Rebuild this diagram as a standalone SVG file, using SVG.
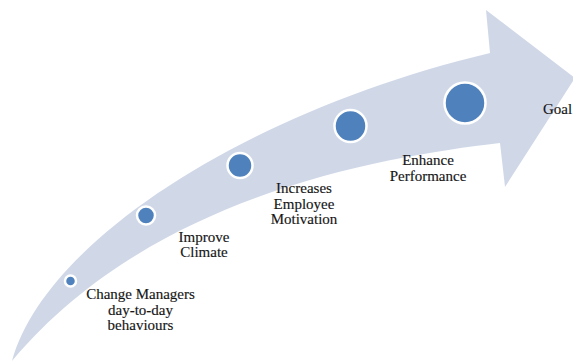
<svg xmlns="http://www.w3.org/2000/svg" width="573" height="362" viewBox="0 0 573 362">
  <style>
    .arrow { fill: #D0D8E8; }
    .dot { fill: #4F81BD; stroke: #FFFFFF; stroke-width: 2.5; }
    .lbl { font-family: "Liberation Serif", "Times New Roman", serif; font-size: 15px; fill: #161616; stroke: #161616; stroke-width: 0.15; text-anchor: middle; }
    .start { text-anchor: start; }
  </style>

  <!-- curved rising arrow -->
  <g id="connectors">
    <path class="arrow" d="M12,361 C45,240 250,110 490,53 L486,10 L575,78 L505,187 L500,143 C380,157 150,196 12,361 Z"/>
  </g>

  <g id="step1">
    <circle class="dot" cx="70.5" cy="281" r="5.5"/>
    <text class="lbl" x="140.5" y="299">Change Managers</text>
    <text class="lbl" x="140.5" y="314.5">day-to-day</text>
    <text class="lbl" x="140.5" y="330">behaviours</text>
  </g>

  <g id="step2">
    <circle class="dot" cx="146" cy="215.5" r="9"/>
    <text class="lbl" x="204" y="241.5">Improve</text>
    <text class="lbl" x="204" y="257">Climate</text>
  </g>

  <g id="step3">
    <circle class="dot" cx="240" cy="165.5" r="12.5"/>
    <text class="lbl" x="304" y="193">Increases</text>
    <text class="lbl" x="304" y="208.5">Employee</text>
    <text class="lbl" x="304" y="224">Motivation</text>
  </g>

  <g id="step4">
    <circle class="dot" cx="350.5" cy="126" r="16"/>
    <text class="lbl" x="428" y="165">Enhance</text>
    <text class="lbl" x="428" y="181">Performance</text>
  </g>

  <g id="step5">
    <circle class="dot" cx="465" cy="103" r="20.5"/>
    <text class="lbl start" x="543" y="114">Goal</text>
  </g>
</svg>
